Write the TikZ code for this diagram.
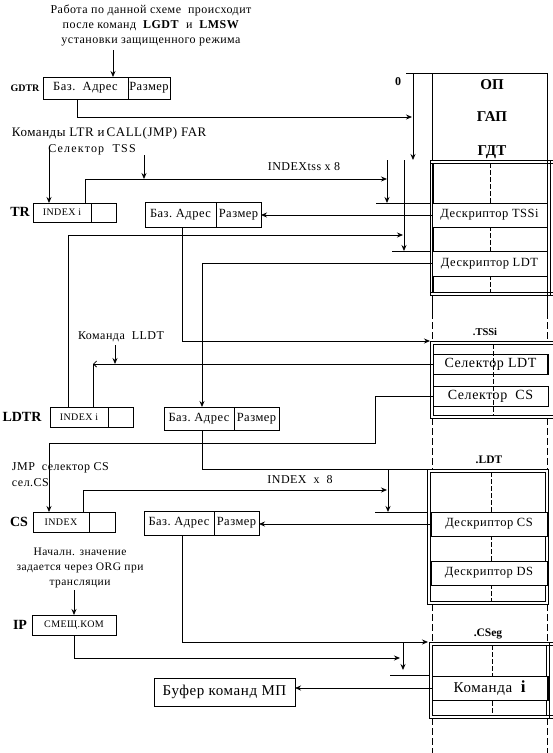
\documentclass[tikz,border=0pt]{standalone}
\usepackage{fontspec}
\setmainfont{Liberation Serif}
\newfontfamily\spA{Liberation Serif}[LetterSpace=4]
\newfontfamily\spB{Liberation Serif}[LetterSpace=10]
\usetikzlibrary{arrows.meta}
\newcommand\myfs[2]{\fontsize{#1}{#2}\selectfont}
\begin{document}
\begin{tikzpicture}[x=1pt,y=-1pt,line width=0.8pt,
  every node/.style={inner sep=0pt,outer sep=0pt},
  cell/.style={draw,fill=white,font=\spA\myfs{12.5}{12.5}},
  smallcell/.style={draw,fill=white,font=\spA\myfs{10}{10}},
  memcell/.style={draw,fill=white,font=\spA\myfs{12.5}{12.5}},
  selcell/.style={draw,font=\spA\myfs{14}{14}},
  reglbl/.style={font=\bfseries\myfs{14}{14}},
  memlbl/.style={font=\bfseries\myfs{15}{15}},
  seglbl/.style={font=\bfseries\myfs{11.5}{11.5}},
  note/.style={font=\spA\myfs{12}{12}},
  arr/.style={-{Stealth[length=6pt,width=5pt]}},
  barb/.style={-{Straight Barb[length=3pt,width=6pt]}},
  dsh/.style={line width=0.7pt,dash pattern=on 5pt off 2pt},
  dd/.style={line width=0.8pt,dash pattern=on 7pt off 3pt}]
\useasboundingbox (0,0) rectangle (553,753);
\fill[white] (0,0) rectangle (553,753);

% ---------- title and GDTR ----------
\node[font=\spA\myfs{12}{15},align=center] (title) at (151,25)
  {Работа по данной схеме\ \ происходит\\после команд\ \ \textbf{LGDT}\ \ и\ \ \textbf{LMSW}\\установки защищенного режима};
\node[font=\bfseries\myfs{10}{10}] (gdtrL) at (25,88) {GDTR};
\node[cell,minimum width=85pt,minimum height=22pt] (gdtrA) at (85.5,88) {Баз.\ \ Адрес};
\node[cell,minimum width=42pt,minimum height=22pt] (gdtrB) at (149,88) {Размер};
\coordinate (t1) at (113,50);
\draw[arr] (t1) -- (t1 |- gdtrA.north);

% ---------- memory top ----------
\coordinate (memTL) at (406,73);
\coordinate (memTR) at (547,73);
\draw (memTL) -- (memTR);
\draw (432,73) -- (432,160);
\draw (547,73) -- (547,160);
\node[font=\bfseries\myfs{12}{12}] (zero) at (398,82) {0};
\node[memlbl] (op) at (492,85) {ОП};
\node[memlbl] (gap) at (492,117) {ГАП};
\node[memlbl] (gdt) at (492,152) {ГДТ};
\coordinate (gA) at (413,73);
\coordinate (gB) at (413,160);
\draw[arr] (gA) -- (gB);
\coordinate (gIn) at (412,117);
\draw[arr] ([xshift=-8.5pt]gdtrA.south) |- (gIn);

% ---------- GDT table ----------
\draw (430,160) -- (553,160);
\draw (430,163) -- (553,163);
\draw (430,292) -- (553,292);
\draw (430,295) -- (553,295);
\draw (430,160) -- (430,295);
\draw[line width=1.8pt] (433,163) -- (433,292);
\draw (547,160) -- (547,295);
\draw (550,160) -- (550,295);
\draw[dsh] (490,163) -- (490,292);
\node[memcell,minimum width=115pt,minimum height=24pt] (dTSS) at (489.5,215) {Дескриптор TSSi};
\node[memcell,minimum width=115pt,minimum height=25pt] (dLDT) at (489.5,263.5) {Дескриптор LDT};

% ---------- TR ----------
\node[font=\spA\myfs{13}{13},anchor=west] (cmdLTR) at (12,133) {Команды LTR и\,CALL(JMP) FAR};
\node[font=\spB\myfs{12}{12}] (selTSS) at (92,150) {Селектор\ \ TSS};
\node[reglbl] (trL) at (20,212) {TR};
\node[smallcell,minimum width=58pt,minimum height=19pt] (trA) at (62,212.5) {INDEX i};
\node[smallcell,minimum width=25pt,minimum height=19pt] (trB) at (103.5,212.5) {};
\node[cell,minimum width=71pt,minimum height=25pt] (trBA) at (180.5,215) {Баз.\ Адрес};
\node[cell,minimum width=45pt,minimum height=25pt] (trBB) at (238.5,215) {Размер};
\coordinate (c1) at (49,147);
\draw[arr] (c1) -- (c1 |- trA.north);
\coordinate (trArr) at (387,179);
\draw[arr] ([xshift=23pt]trA.north) |- (trArr);
\coordinate (c2) at (144,155);
\draw[arr] (c2) -- (c2 |- trArr);
\node[note] (ix8) at (304,167) {INDEXtss x 8};
\coordinate (v1a) at (387,160);
\coordinate (v1b) at (387,203);
\draw[arr] (v1a) -- (v1b);
\draw (376,203) -- (430,203);
\draw[arr] (dTSS.west) -- (dTSS.west -| trBB.east);
\coordinate (tssIn) at (430,341);
\draw[arr] ([xshift=1.5pt]trBA.south) |- (tssIn);

% ---------- LDTR ----------
\node[reglbl] (ldtrL) at (22,417) {LDTR};
\node[smallcell,minimum width=58pt,minimum height=20pt] (ldtrA) at (79,417) {INDEX i};
\node[smallcell,minimum width=25pt,minimum height=20pt] (ldtrB) at (120.5,417) {};
\node[cell,minimum width=70pt,minimum height=23pt] (ldtrBA) at (199,418.5) {Баз.\ Адрес};
\node[cell,minimum width=45pt,minimum height=23pt] (ldtrBB) at (256.5,418.5) {Размер};
\coordinate (ldtArr) at (403,235);
\draw[arr] ([xshift=-11pt]ldtrA.north) |- (ldtArr);
\coordinate (v2a) at (404,160);
\coordinate (v2b) at (404,251);
\draw[arr] (v2a) -- (v2b);
\draw (392,251) -- (430,251);
\draw[arr] (dLDT.west) -| ([xshift=3pt]ldtrBA.north);

% ---------- TSSi table ----------
\draw (430,341) -- (553,341);
\draw (433,344) -- (553,344);
\draw (433,415) -- (553,415);
\draw (430,418) -- (553,418);
\draw (430,341) -- (430,418);
\draw (433,344) -- (433,415);
\draw[dsh] (493,344) -- (493,415);
\node[selcell,minimum width=115pt,minimum height=20pt] (selLDT) at (490.5,364) {Селектор LDT};
\node[selcell,minimum width=115pt,minimum height=20pt] (selCS) at (490.5,396) {Селектор\ \ CS};
\draw[line width=2.4pt] (selLDT.north east) -- (selLDT.south east);
\node[font=\bfseries\myfs{10.5}{10.5}] (tssiL) at (485,332) {.TSSi};
\coordinate (k2) at (93,364);
\draw[barb] (selLDT.west) -- (k2);
\draw (k2) -- (k2 |- ldtrA.north);
\node[font=\spA\myfs{12}{12}] (lldt) at (121,337) {Команда\ \ LLDT};
\coordinate (k3) at (115,345);
\draw[arr] (k3) -- (k3 |- k2);
\node[note,anchor=west] (jmp) at (12,468) {JMP\ \ селектор CS};
\node[note,anchor=west] (selcs) at (12,483) {сел.CS};

% ---------- LDT table ----------
\coordinate (ldtIn) at (427,469);
\draw ([xshift=3pt]ldtrBA.south) |- (ldtIn);
\draw (427,469) rectangle (548,604);
\draw (430,472) rectangle (545,601);
\draw[dsh] (491,472) -- (491,601);
\node[memcell,minimum width=116pt,minimum height=24pt] (dCS) at (489,524) {Дескриптор CS};
\node[memcell,minimum width=116pt,minimum height=24pt] (dDS) at (489,573) {Дескриптор DS};
\node[seglbl] (ldtL) at (489,460) {.LDT};

% ---------- CS ----------
\node[reglbl] (csL) at (19,522) {CS};
\node[smallcell,minimum width=56pt,minimum height=20pt] (csA) at (61,522) {INDEX};
\node[smallcell,minimum width=26pt,minimum height=20pt] (csB) at (102,522) {};
\node[cell,minimum width=70pt,minimum height=24pt] (csBA) at (179,523) {Баз.\ Адрес};
\node[cell,minimum width=45pt,minimum height=24pt] (csBB) at (236.5,523) {Размер};
\coordinate (k4) at (375,443);
\draw[arr] (selCS.west) -| (k4) -| ([xshift=-12pt]csA.north);
\coordinate (csArr) at (387,490);
\draw[arr] ([xshift=22pt]csA.north) |- (csArr);
\node[note] (ix8b) at (300,480) {INDEX\ \ x\ \ 8};
\coordinate (v3a) at (388,469);
\coordinate (v3b) at (388,512);
\draw[arr] (v3a) -- (v3b);
\draw (375,512) -- (427,512);
\draw[arr] (dCS.west) -- (dCS.west -| csBB.east);
\coordinate (csegIn) at (428,642);
\draw[arr] ([xshift=3pt]csBA.south) |- (csegIn);

% ---------- IP ----------
\node[font=\spA\myfs{11.5}{15},align=center] (org) at (80,568) {Началн. значение\\задается через ORG при\\трансляции};
\node[reglbl] (ipL) at (20,625) {IP};
\node[smallcell,minimum width=84pt,minimum height=20pt] (ip) at (74,625) {СМЕЩ.КОМ};
\coordinate (k5) at (74,590);
\draw[arr] (k5) -- (k5 |- ip.north);
\coordinate (ipArr) at (400,658);
\draw[arr] (ip.south) |- (ipArr);
\coordinate (v4a) at (403,642);
\coordinate (v4b) at (403,670);
\draw[arr] (v4a) -- (v4b);
\draw (390,675) -- (430,675);

% ---------- CSeg table ----------
\draw (429,642) -- (553,642);
\draw (432,645) -- (553,645);
\draw (432,715) -- (553,715);
\draw (429,718) -- (553,718);
\draw (429,642) -- (429,718);
\draw (432,645) -- (432,715);
\draw (546,645) -- (546,715);
\draw (549,642) -- (549,718);
\draw[dsh] (492,645) -- (492,715);
\node[memcell,minimum width=116pt,minimum height=24pt,font=\spA\myfs{15}{15}] (cmd) at (490,688) {Команда\ \ \textbf{\myfs{17}{17}i}};
\draw[line width=2.4pt] (cmd.north east) -- (cmd.south east);
\node[seglbl] (csegL) at (488,634) {.CSeg};
\node[cell,minimum width=141pt,minimum height=28pt,font=\spA\myfs{15}{15}] (buf) at (224.5,692) {Буфер команд МП};
\draw[arr] (cmd.west) -- (cmd.west -| buf.east);

% ---------- dashed memory borders ----------
\draw (432,295) -- (432,312);
\draw (547,295) -- (547,312);
\draw[dd] (432,312) -- (432,341);
\draw[dd] (547,312) -- (547,341);
\draw[dd] (432,418) -- (432,469);
\draw[dd] (547,418) -- (547,469);
\draw[dd] (432,604) -- (432,642);
\draw[dd] (547,604) -- (547,642);
\draw[dd] (432,718) -- (432,753);
\draw[dd] (547,718) -- (547,753);
\end{tikzpicture}
\end{document}
